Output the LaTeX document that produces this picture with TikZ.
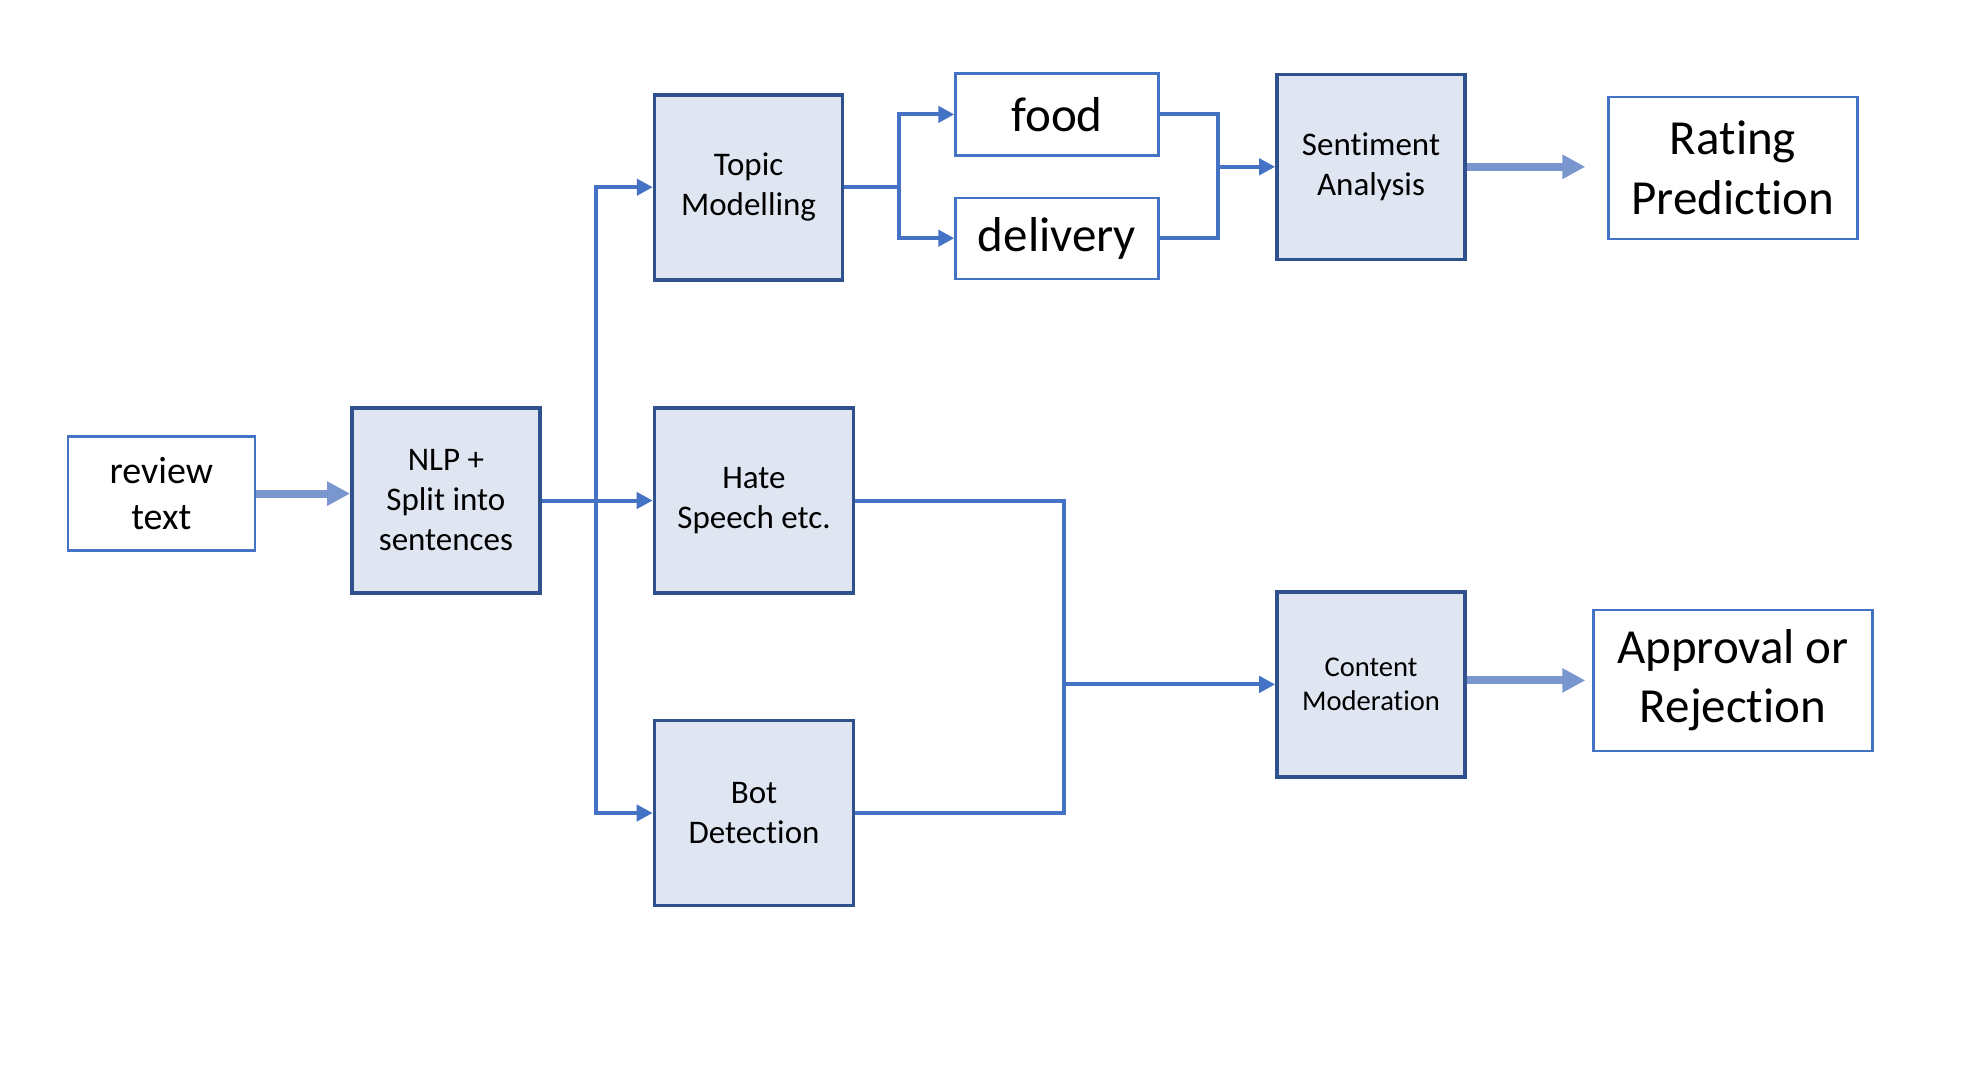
\documentclass[tikz,border=0pt]{standalone}
\usepackage{fontspec}
\setmainfont{Carlito}[Ligatures=NoCommon]
\usetikzlibrary{arrows.meta}
\definecolor{boxfill}{HTML}{DFE6F2}
\definecolor{boxedge}{HTML}{2F528F}
\definecolor{conncol}{HTML}{4472C4}
\definecolor{fatcol}{HTML}{7A96CF}
\tikzset{
  procbox/.style={draw=boxedge, line width=1.8pt, fill=boxfill, inner sep=0pt, align=center,
    minimum width=94pt, minimum height=92.5pt, font=\fontsize{16.5}{20}\selectfont},
  plainbox/.style={draw=conncol, line width=1.2pt, fill=white, inner sep=0pt, align=center},
  conn/.style={draw=conncol, line width=2pt},
  connarr/.style={conn, -{Triangle[length=8pt,width=8pt]}},
  fat/.style={draw=fatcol, line width=4pt, -{Triangle[length=11.5pt,width=11.5pt]}},
}
\begin{document}
\begin{tikzpicture}[x=0.5pt,y=-0.5pt]
\useasboundingbox[fill=white] (0,0) rectangle (1968,1082);
% nodes
\node[plainbox, minimum width=93.5pt, minimum height=57pt, font=\fontsize{19}{23}\selectfont] (review) at (161.3,493.6) {review\\text};
\node[procbox] (nlp) at (445.9,500.5) {NLP +\\Split into\\sentences};
\node[procbox] (topic) at (748.6,187.2) {Topic\\Modelling};
\node[procbox, minimum width=99.5pt] (hate) at (754,500.5) {Hate\\Speech etc.};
\node[procbox, minimum width=99.5pt] (bot) at (754,813) {Bot\\Detection};
\node[plainbox, minimum width=101.5pt, minimum height=41pt, font=\fontsize{24.5}{29.6}\selectfont] (food) at (1057,114.4) {food};
\node[plainbox, minimum width=101.5pt, minimum height=40.5pt, font=\fontsize{24.5}{29.6}\selectfont] (delivery) at (1057,238.2) {delivery};
\node[procbox] (sent) at (1371,166.8) {Sentiment\\Analysis};
\node[procbox, font=\fontsize{14.3}{17.3}\selectfont] (content) at (1371,684.4) {Content\\Moderation};
\node[plainbox, minimum width=124.5pt, minimum height=71pt, font=\fontsize{24.5}{29.7}\selectfont] (rating) at (1733,168) {Rating\\Prediction};
\node[plainbox, minimum width=139.5pt, minimum height=70.5pt, font=\fontsize{24.5}{29.7}\selectfont] (approval) at (1733,680.4) {Approval or\\Rejection};
% junctions
\coordinate (j1) at (596.2,500.5);
\coordinate (j2) at (898.6,187.2);
\coordinate (j3) at (1218,166.8);
\coordinate (j4) at (1064.3,684.4);
% connectors
\draw[fat] (review.east) -- (nlp.west |- review.east);
\draw[connarr] (nlp.east) -- (hate.west);
\draw[connarr] (j1) |- (topic.west);
\draw[connarr] (j1) |- (bot.west);
\draw[conn] (topic.east) -- (j2);
\draw[connarr] (j2) |- (food.west);
\draw[connarr] (j2) |- (delivery.west);
\draw[conn] (food.east) -| (j3);
\draw[conn] (delivery.east) -| (j3);
\draw[connarr] (j3) -- (sent.west);
\draw[conn] (hate.east) -| (j4);
\draw[conn] (bot.east) -| (j4);
\draw[connarr] (j4) -- (content.west);
\draw[fat, shorten >=11pt] (sent.east) -- (sent.east -| rating.west);
\draw[fat, shorten >=3.5pt] (content.east |- approval.west) -- (approval.west);
\end{tikzpicture}
\end{document}
